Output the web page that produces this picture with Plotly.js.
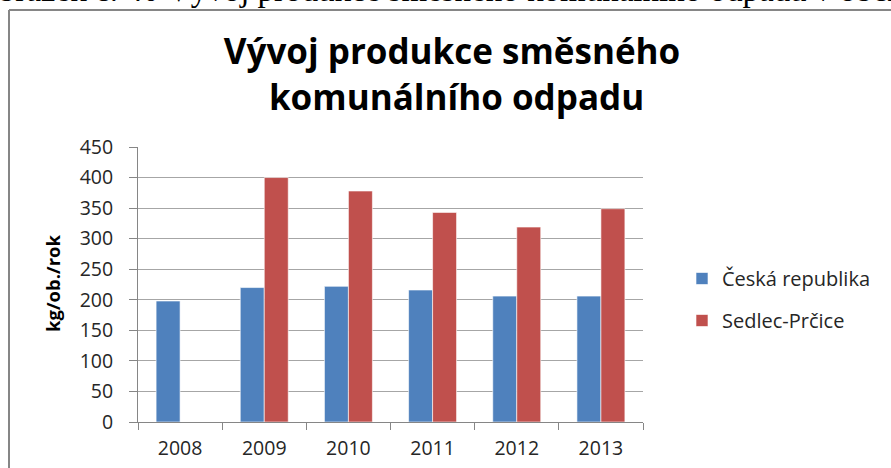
<!DOCTYPE html>
<html>
<head>
<meta charset="utf-8">
<script src="https://cdn.plot.ly/plotly-3.0.1.min.js"></script>
<style>html,body{margin:0;padding:0;background:#fff;}#chart{width:891px;height:468px;}</style>
</head>
<body>
<div id="chart"></div>
<script>
const years = ['2008', '2009', '2010', '2011', '2012', '2013'];
const ceskaRepublika = [198, 220, 222, 216, 206, 206];
const sedlecPrcice = [null, 400, 378, 343, 319, 349];
const seriesNames = ['Česká republika', 'Sedlec-Prčice'];
const yTicks = [0, 50, 100, 150, 200, 250, 300, 350, 400, 450];

const W = 891, H = 468;
const L = 138, R = 643, T = 147, B = 422;
const pw = R - L, ph = B - T;
const px = x => (x - L) / pw;
const py = y => (B - y) / ph;

const font = '"Open Sans", Lato, sans-serif';

const traces = [
  {type: 'bar', x: years, y: ceskaRepublika, name: seriesNames[0], legendgroup: 'a',
   marker: {color: '#4f81bd', line: {color: 'rgba(255,255,255,0.6)', width: 1}}},
  {type: 'bar', x: years, y: sedlecPrcice, name: seriesNames[1], legendgroup: 'b',
   marker: {color: '#c0504d', line: {color: 'rgba(255,255,255,0.6)', width: 1}}}
];

const layout = {
  width: W, height: H,
  margin: {l: L, r: W - R, t: T, b: H - B, pad: 0},
  paper_bgcolor: '#ffffff', plot_bgcolor: '#ffffff',
  barmode: 'group', bargap: 0.43, bargroupgap: 0,
  font: {family: font, color: '#262626', size: 19},
  title: {text: 'Vývoj produkce směsného<br> komunálního odpadu',
          font: {family: font, size: 35, color: '#000', weight: 'bold'},
          x: 452 / W, xanchor: 'center', y: 1 - 64 / H, yanchor: 'top', yref: 'container'},
  xaxis: {type: 'category', tickson: 'boundaries', ticks: 'outside', ticklen: 7, tickcolor: '#868686',
          showline: true, linecolor: '#868686', linewidth: 1, showgrid: false,
          tickfont: {family: font, size: 19.5, color: '#262626'}, ticklabelstandoff: 9, fixedrange: true},
  yaxis: {range: [0, 450], tickvals: yTicks, ticks: 'outside', ticklen: 8, tickcolor: '#868686',
          showline: true, linecolor: '#868686', linewidth: 1, showgrid: true, gridcolor: '#a6a6a6', gridwidth: 1,
          zeroline: false, tickfont: {family: font, size: 19.5, color: '#262626'}, ticklabelstandoff: 12},
  showlegend: true,
  legend: {x: px(682), xanchor: 'left', y: py(259), yanchor: 'top', traceorder: 'grouped',
           tracegroupgap: 13, font: {family: font, size: 20, color: '#262626'},
           itemwidth: 30, bgcolor: 'rgba(0,0,0,0)'},
  annotations: [
    {text: 'kg/ob./rok', textangle: -90, xref: 'paper', yref: 'paper', x: px(52), y: py(284),
     xanchor: 'center', yanchor: 'middle', showarrow: false,
     font: {family: font, size: 18.5, color: '#000', weight: 'bold'}},
    {text: 'Obrázek č. 40 Vývoj produkce směsného komunálního odpadu v obci Sedlec-Prčice',
     xref: 'paper', yref: 'paper', x: px(-27), y: py(-10), xanchor: 'left', yanchor: 'middle',
     showarrow: false, font: {family: '"Liberation Serif", "Times New Roman", serif', size: 33, color: '#000'}}
  ],
  shapes: [
    {type: 'line', xref: 'paper', yref: 'paper', x0: px(9), x1: px(895), y0: py(10), y1: py(10),
     line: {color: '#868686', width: 2}},
    {type: 'line', xref: 'paper', yref: 'paper', x0: px(9), x1: px(9), y0: py(10), y1: py(472),
     line: {color: '#868686', width: 2}}
  ]
};

Plotly.newPlot('chart', traces, layout, {displayModeBar: false, staticPlot: true});
</script>
</body>
</html>
